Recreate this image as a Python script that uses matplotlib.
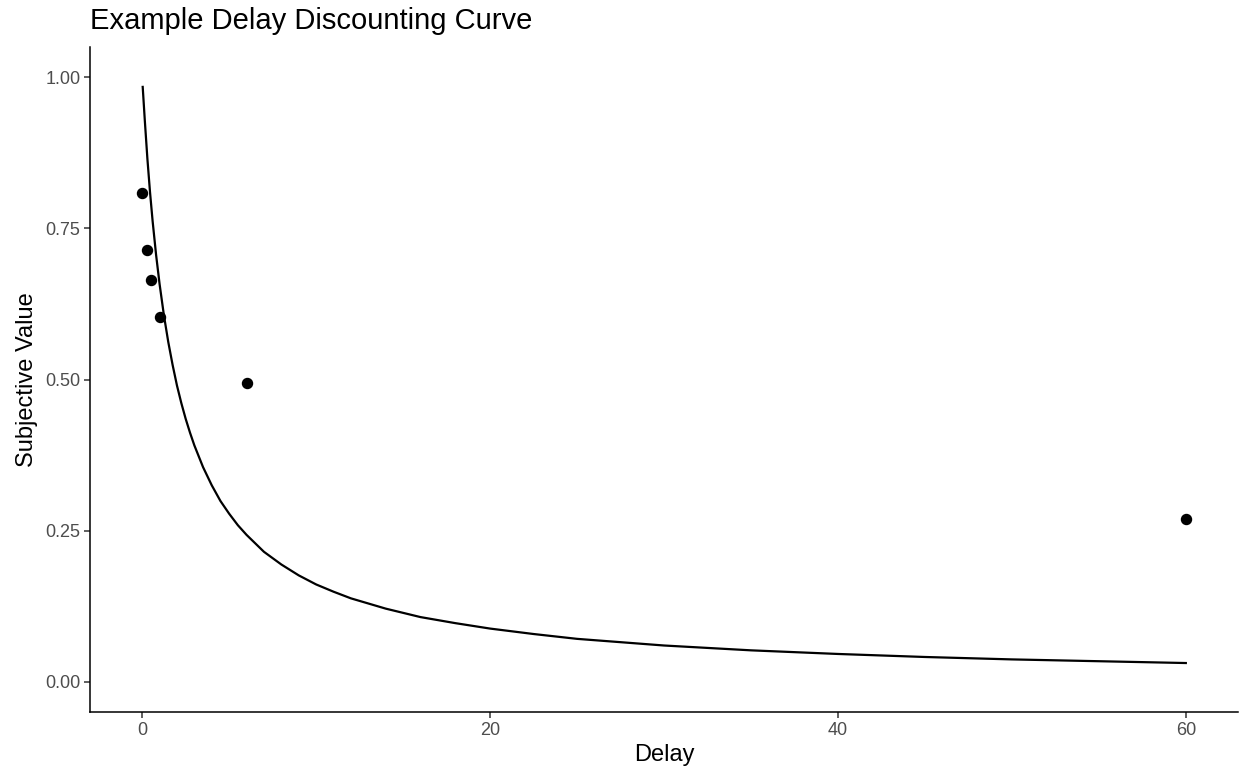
import matplotlib
matplotlib.use("Agg")
import matplotlib.pyplot as plt

plt.rcParams['font.family'] = ['Liberation Sans', 'DejaVu Sans']

# puntos observados
delay_pts = [0, 0.25, 0.5, 1, 6, 60]
value_pts = [0.809, 0.714, 0.665, 0.604, 0.494, 0.269]

# curva
delay_curve = [0.03, 0.15, 0.3, 0.45, 0.6, 0.8, 1, 1.25, 1.5, 1.75, 2, 2.25, 2.5,
               2.75, 3, 3.5, 4, 4.5, 5, 5.5, 6, 7, 8, 9, 10, 11, 12, 14, 16, 18,
               20, 22.5, 25, 30, 35, 40, 45, 50, 55, 60]
value_curve = [0.984, 0.929, 0.865, 0.810, 0.762, 0.706, 0.658, 0.606, 0.562,
               0.524, 0.490, 0.461, 0.435, 0.412, 0.391, 0.355, 0.325, 0.299,
               0.278, 0.259, 0.243, 0.215, 0.194, 0.176, 0.161, 0.149, 0.138,
               0.121, 0.107, 0.097, 0.088, 0.079, 0.071, 0.060, 0.052, 0.046,
               0.041, 0.037, 0.034, 0.031]

x_ticks = [0, 20, 40, 60]
y_ticks = [0.00, 0.25, 0.50, 0.75, 1.00]

fig = plt.figure(figsize=(12.39, 7.69), dpi=100)
ax = fig.add_axes([90/1239, 57/769, 1148/1239, 665/769])

ax.plot(delay_curve, value_curve, color="black", lw=1.6)
ax.scatter(delay_pts, value_pts, s=52, color="black", zorder=3)

ax.set_xlim(-3, 63)
ax.set_ylim(-0.05, 1.05)
ax.set_xticks(x_ticks)
ax.set_xticklabels([str(t) for t in x_ticks])
ax.set_yticks(y_ticks)
ax.set_yticklabels(["%.2f" % t for t in y_ticks])

for s in ["top", "right"]:
    ax.spines[s].set_visible(False)
for s in ["left", "bottom"]:
    ax.spines[s].set_linewidth(1.1)
ax.tick_params(axis="both", length=4, width=1.1, color="#333333",
               labelcolor="#4D4D4D", labelsize=13, pad=3)

ax.set_xlabel("Delay", fontsize=17, labelpad=4)
ax.set_ylabel("Subjective Value", fontsize=17, labelpad=5)
fig.text(90/1239, 1 - 29/769, "Example Delay Discounting Curve", fontsize=21,
         ha="left", va="baseline")

fig.savefig("out.png", dpi=100)
